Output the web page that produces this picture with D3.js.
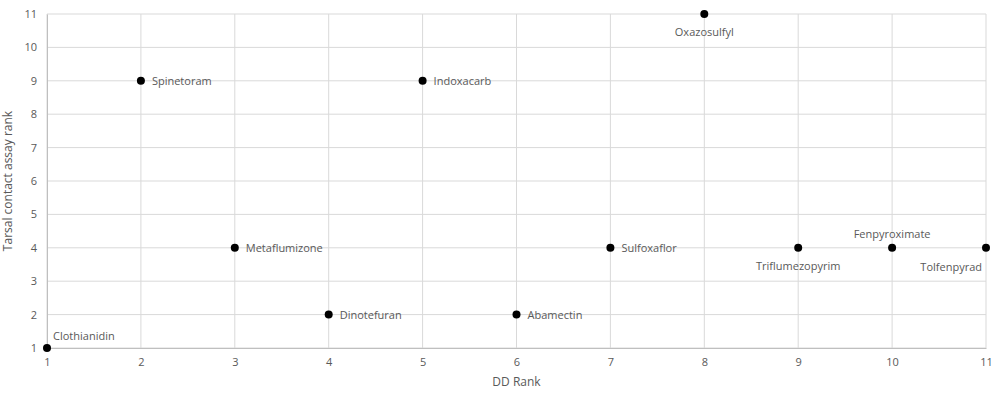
<!DOCTYPE html>
<html>
<head>
<meta charset="utf-8">
<script src="https://cdn.jsdelivr.net/npm/d3@7"></script>
<style>
  body { margin: 0; background: #fff; }
  text { font-family: "Open Sans", "Liberation Sans", sans-serif; fill: #595959; }
</style>
</head>
<body>
<div id="chart-area"></div>
<script>
// data
const names = ["Clothianidin", "Spinetoram", "Metaflumizone", "Dinotefuran", "Indoxacarb",
  "Abamectin", "Sulfoxaflor", "Oxazosulfyl", "Triflumezopyrim", "Fenpyroximate", "Tolfenpyrad"];
const ddRank = [1, 2, 3, 4, 5, 6, 7, 8, 9, 10, 11];
const tarsalRank = [1, 9, 4, 2, 9, 2, 4, 11, 4, 4, 4];
const labelPos = ["aboveRight", "right", "right", "right", "right", "right", "right",
  "below", "below", "above", "belowLeft"];
const xTicks = [1, 2, 3, 4, 5, 6, 7, 8, 9, 10, 11];
const yTicks = [1, 2, 3, 4, 5, 6, 7, 8, 9, 10, 11];

const margin = { top: 14, right: 14, bottom: 45, left: 47 };
const width = 1000 - margin.left - margin.right;
const height = 393 - margin.top - margin.bottom;

const svg = d3.select('#chart-area')
  .append('svg')
  .attr('width', 1000)
  .attr('height', 393)
  .append('g')
  .attr('transform', `translate(${margin.left}, ${margin.top})`);

const x_s = d3.scaleLinear().domain([1, 11]).range([0, width]);
const y_s = d3.scaleLinear().domain([1, 11]).range([height, 0]);

// gridlines
svg.append('g')
  .selectAll('line.v')
  .data(xTicks)
  .enter().append('line')
  .attr('x1', d => x_s(d)).attr('x2', d => x_s(d))
  .attr('y1', 0).attr('y2', height)
  .attr('stroke', '#d9d9d9').attr('stroke-width', 1);

svg.append('g')
  .selectAll('line.h')
  .data(yTicks)
  .enter().append('line')
  .attr('x1', 0).attr('x2', width)
  .attr('y1', d => y_s(d)).attr('y2', d => y_s(d))
  .attr('stroke', '#d9d9d9').attr('stroke-width', 1);

// axes
const xAxis = d3.axisBottom(x_s).tickValues(xTicks).tickSize(0).tickPadding(10);
svg.append('g')
  .attr('transform', `translate(0, ${height})`)
  .call(xAxis)
  .call(g => g.select('.domain').attr('stroke', '#bfbfbf'))
  .selectAll('text').style('font-size', '11px').attr('fill', '#595959');

const yAxis = d3.axisLeft(y_s).tickValues(yTicks).tickSize(0).tickPadding(10);
svg.append('g')
  .call(yAxis)
  .call(g => g.select('.domain').attr('stroke', '#bfbfbf'))
  .selectAll('text').style('font-size', '11px').attr('fill', '#595959');

// axis titles
svg.append('text')
  .attr('x', width / 2)
  .attr('y', height + 38)
  .attr('text-anchor', 'middle')
  .style('font-size', '12px')
  .text('DD Rank');

svg.append('text')
  .attr('transform', `translate(${-35}, ${height / 2}) rotate(-90)`)
  .attr('text-anchor', 'middle')
  .style('font-size', '12px')
  .text('Tarsal contact assay rank');

// points
const pts = names.map((n, i) => ({ name: n, x: ddRank[i], y: tarsalRank[i], pos: labelPos[i] }));

svg.selectAll('circle')
  .data(pts)
  .enter().append('circle')
  .attr('cx', d => x_s(d.x))
  .attr('cy', d => y_s(d.y))
  .attr('r', 4)
  .attr('fill', '#000');

// labels
const off = {
  right: [11, 4, 'start'],
  aboveRight: [6, -8, 'start'],
  below: [0, 22, 'middle'],
  above: [0, -10, 'middle'],
  belowLeft: [-4, 23, 'end']
};
svg.selectAll('text.lbl')
  .data(pts)
  .enter().append('text')
  .attr('class', 'lbl')
  .attr('x', d => x_s(d.x) + off[d.pos][0])
  .attr('y', d => y_s(d.y) + off[d.pos][1])
  .attr('text-anchor', d => off[d.pos][2])
  .style('font-size', '11px')
  .text(d => d.name);
</script>
</body>
</html>
